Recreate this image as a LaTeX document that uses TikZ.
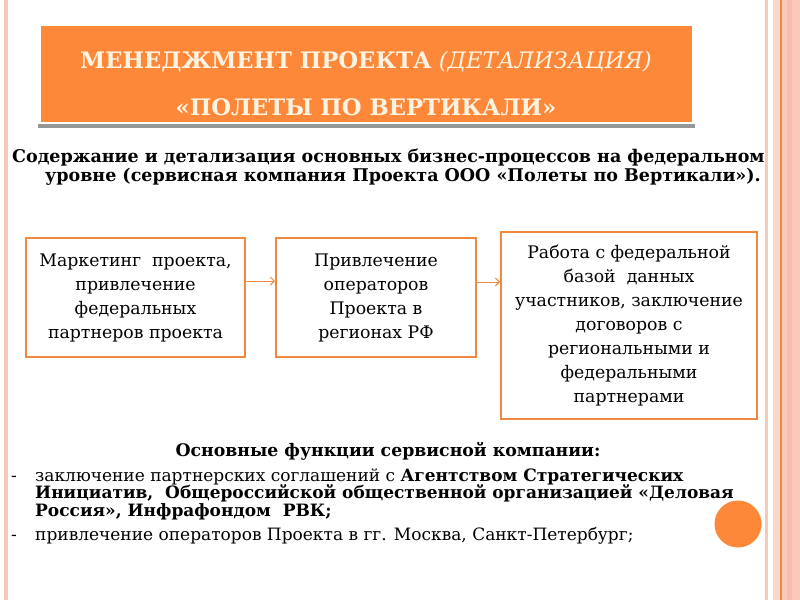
\documentclass[tikz,border=0pt]{standalone}
\usepackage{fontspec}
\setmainfont{DejaVu Serif}
\usetikzlibrary{arrows.meta}
\definecolor{ttl}{RGB}{253,136,57}
\definecolor{cream}{RGB}{255,244,226}
\definecolor{bord}{RGB}{240,136,64}
\definecolor{peach}{RGB}{250,200,184}
\definecolor{peachL}{RGB}{252,214,200}
\definecolor{peachD}{RGB}{246,190,170}
\definecolor{shadow}{RGB}{150,150,150}
\begin{document}
\begin{tikzpicture}[x=1pt,y=-1pt,
  procbox/.style={draw=bord, line width=2pt, fill=white, align=center, inner sep=0pt,
    font=\fontsize{17.3}{24}\selectfont},
  flow/.style={draw=bord, line width=0.9pt, -{Straight Barb[length=4pt,width=8pt]}},
  ttltext/.style={inner sep=0pt, text=cream, font=\fontsize{22.7}{24}\selectfont},
  subtext/.style={inner sep=0pt, anchor=west, font=\fontsize{17.5}{18}\selectfont\bfseries},
  bodytext/.style={inner sep=0pt, anchor=base west, font=\fontsize{17}{18}\selectfont}
]
\useasboundingbox (0,0) rectangle (800,600);
\fill[white] (0,0) rectangle (800,600);
% slide frame
\fill[peach] (4,0) rectangle (8,600);
\fill[peach] (765,0) rectangle (768,600);
\fill[peachL] (773,0) rectangle (800,600);
\fill[peach] (781,0) rectangle (800,600);
\fill[peachD] (787,0) rectangle (792,600);
\fill[bord] (780,0) rectangle (781.5,600);
% title
\fill[shadow] (38,124) rectangle (695,128);
\node[fill=ttl, minimum width=651pt, minimum height=96pt, inner sep=0pt] (title) at (366.5,74) {};
\node[ttltext] (t1) at (366,62) {\textbf{МЕНЕДЖМЕНТ ПРОЕКТА} \textit{(ДЕТАЛИЗАЦИЯ)}};
\node[ttltext] (t2) at (366,107) {\textbf{«ПОЛЕТЫ ПО ВЕРТИКАЛИ»}};
% subtitle
\node[subtext] (s1) at (12,158) {Содержание и детализация основных бизнес-процессов на федеральном};
\node[subtext] (s2) at (45,177) {уровне (сервисная компания Проекта ООО «Полеты по Вертикали»).};
% process boxes
\node[procbox, minimum width=219pt, minimum height=119pt] (b1) at (135.5,297.5)
  {Маркетинг\ \ проекта,\\привлечение\\федеральных\\партнеров проекта};
\node[procbox, minimum width=200pt, minimum height=119pt] (b2) at (376,297.5)
  {Привлечение\\операторов\\Проекта в\\регионах РФ};
\node[procbox, minimum width=256pt, minimum height=187pt] (b3) at (629,325.5)
  {Работа с федеральной\\базой\ \ данных\\участников, заключение\\договоров с\\региональными и\\федеральными\\партнерами};
\coordinate (r1) at (0,281);
\coordinate (r2) at (0,282);
\draw[flow] (b1.east |- r1) -- (b2.west |- r1);
\draw[flow] (b2.east |- r2) -- (b3.west |- r2);
% functions
\node[inner sep=0pt, anchor=base, font=\fontsize{17.3}{18}\selectfont\bfseries] (fh) at (388,456) {Основные функции сервисной компании:};
\node[bodytext] (d1) at (11,481) {-};
\node[bodytext] (f1) at (35,481) {заключение партнерских соглашений с \textbf{Агентством Стратегических}};
\node[bodytext] (f2) at (35,498) {\textbf{Инициатив,\ \ Общероссийской общественной организацией «Деловая}};
\node[bodytext] (f3) at (35,516) {\textbf{Россия», Инфрафондом\ \ РВК;}};
\node[bodytext] (d2) at (11,540) {-};
\node[bodytext] (f4) at (35,540) {привлечение операторов Проекта в гг. Москва, Санкт-Петербург;};
% decoration dot
\node[circle, fill=ttl, minimum size=47pt, inner sep=0pt] (dot) at (738,524) {};
\end{tikzpicture}
\end{document}
